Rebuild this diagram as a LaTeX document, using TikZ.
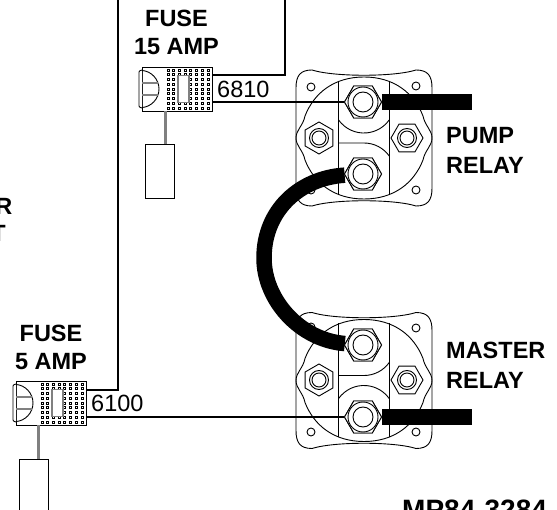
\documentclass[tikz,border=0pt]{standalone}
\usepackage{fontspec}
\setmainfont{Liberation Sans}
\usetikzlibrary{shapes.geometric}
\tikzstyle{wire} = [line width=1.3pt, black]
\tikzstyle{cable} = [line width=15.5pt, black]
\tikzstyle{thin} = [line width=0.9pt, black]
\tikzstyle{label} = [font=\fontsize{23.5}{28}\selectfont\bfseries, inner sep=0pt, align=left, anchor=west]
\tikzstyle{wirenum} = [font=\fontsize{23.5}{28}\selectfont, inner sep=0pt, anchor=base west]
\tikzstyle{fuse} = [rectangle, draw=black, line width=0.9pt, fill=white, minimum width=70pt, minimum height=44pt, inner sep=0pt]
\tikzstyle{tube} = [rectangle, draw=black, line width=0.9pt, fill=white, minimum width=29pt, inner sep=0pt]
\tikzstyle{nut} = [regular polygon, regular polygon sides=6, draw=black, line width=0.9pt, fill=white, minimum size=32pt, inner sep=0pt]
\tikzstyle{nutbig} = [regular polygon, regular polygon sides=6, draw=black, line width=0.9pt, fill=white, minimum size=37pt, inner sep=0pt]
\tikzstyle{washer} = [circle, draw=black, line width=0.9pt, fill=white, minimum size=14pt, inner sep=0pt]
\tikzstyle{hole} = [circle, draw=black, line width=0.9pt, fill=white, minimum size=8pt, inner sep=0pt]

% fuse body: name, then centre
\newcommand{\fuseholder}[2]{
    \node (#1) [fuse] at (#2) {};
    \begin{scope}[shift={(#1.center)}]
        \draw [thin, fill=white, rounded corners=1pt] (-35,-19) -- (-38,-18) -- (-38,18) -- (-35,19);
        \draw [thin] (-35,-18.5) .. controls (-26,-18) and (-18,-10) .. (-18,0) .. controls (-18,10) and (-26,18) .. (-35,18.5);
        \draw [gray, line width=1.5pt] (-35,-6) -- (-19,-6) (-35,6) -- (-19,6);
        \foreach \cx in {-9,-3.3,...,32} \foreach \cy in {-19,-14.25,...,20}
            \draw [line width=0.7pt] (\cx-1,\cy-1) rectangle (\cx+1,\cy+1);
        \draw [gray, line width=1.2pt, fill=white] (1,-13.5) rectangle (12,13.5);
    \end{scope}
}
% relay base: centre, then 1 or -1 (pump or master)
\newcommand{\relaybase}[2]{
    \begin{scope}[shift={(#1)}, yscale=#2]
        \draw [thin] (-68,-50) .. controls (-68,-62) and (-64,-68) .. (-52,-68)
            .. controls (-30,-61) and (30,-61) .. (52,-68)
            .. controls (64,-68) and (68,-62) .. (68,-50) -- (68,50)
            .. controls (68,62) and (64,68) .. (52,68)
            .. controls (30,61) and (-30,61) .. (-52,68)
            .. controls (-64,68) and (-68,62) .. (-68,50) -- cycle;
        \draw [thin] (0,-61) .. controls (30,-61) and (50,-45) .. (59,-22) .. controls (61,-12) and (68,-8) .. (68,0)
            .. controls (68,8) and (61,12) .. (59,22) .. controls (50,45) and (30,61) .. (0,61)
            .. controls (-30,61) and (-50,45) .. (-59,22) .. controls (-61,12) and (-68,8) .. (-68,0)
            .. controls (-68,-8) and (-61,-12) .. (-59,-22) .. controls (-50,-45) and (-30,-61) .. (0,-61);
        \draw [thin] (-25.5,-57) -- (-25.5,57) (25.5,-57) -- (25.5,57);
        \draw [thin] (-25.5,-18.2) arc (145:35:31);
        \draw [thin] (-25.5,5) -- (0,5) arc (-90:-35:31);
    \end{scope}
}

\begin{document}
\begin{tikzpicture}[x=1pt, y=-1pt]
    \useasboundingbox (0,0) rectangle (557,510);

    \relaybase{364,138}{1}
    \relaybase{364,380.5}{-1}

    \node (pumphole1) [hole] at (311,87) {};
    \node (pumphole2) [hole] at (416,86) {};
    \node (pumphole3) [hole] at (311,190) {};
    \node (pumphole4) [hole] at (416,190) {};
    \node (masterhole1) [hole] at (311,327) {};
    \node (masterhole2) [hole] at (416,328) {};
    \node (masterhole3) [hole] at (311,432) {};
    \node (masterhole4) [hole] at (416,432) {};

    \fuseholder{fuse15}{177,89}
    \fuseholder{fuse5}{51,403}

    % terminals
    \node (pumpt) [nutbig] at (363,102) {};
    \node (pumpb) [nutbig] at (363,174) {};
    \node (mastert) [nutbig] at (363,345) {};
    \node (masterb) [nutbig] at (363,417) {};

    % wires
    \coordinate (top15) at (285,0);
    \coordinate (top5) at (118,0);
    \draw [wire] (fuse15.east |- 0,75) -| (top15);
    \draw [wire] (fuse5.east |- 0,390) -| (top5);
    \draw [wire] (fuse15.east |- pumpt) -- (pumpt);
    \draw [wire] (fuse5.east |- masterb) -- (masterb);

    \coordinate (pumpend) at (472,102);
    \coordinate (masterend) at (472,417);
    \draw [cable] (pumpt) -- (pumpend);
    \draw [cable] (masterb) -- (masterend);
    \draw [cable] (pumpb) .. controls (300,178) and (264,210) .. (264,258) .. controls (264,300) and (300,340) .. (mastert);

    \node (pumptn) [nutbig] at (pumpt) {};
    \node (pumptw) [washer, minimum size=30pt] at (pumpt) {};
    \node (pumpti) [washer, minimum size=20pt] at (pumpt) {};
    \node (pumpbn) [nutbig] at (pumpb) {};
    \node (pumpbw) [washer, minimum size=30pt] at (pumpb) {};
    \node (pumpbi) [washer, minimum size=20pt] at (pumpb) {};
    \node (masterbn) [nutbig] at (masterb) {};
    \node (masterbw) [washer, minimum size=30pt] at (masterb) {};
    \node (masterbi) [washer, minimum size=20pt] at (masterb) {};
    \node (mastertn) [nutbig] at (mastert) {};
    \node (mastertw) [washer, minimum size=30pt] at (mastert) {};
    \node (masterti) [washer, minimum size=20pt] at (mastert) {};

    \node (pumpl) [nut, shape border rotate=30] at (319,138) {};
    \node (pumpr) [nut] at (407,138) {};
    \node (masterl) [nut, shape border rotate=30] at (319,380) {};
    \node (masterr) [nut] at (407,380) {};
    \node (pumplw) [washer, minimum size=19pt] at (pumpl) {};
    \node (pumplv) [washer] at (pumpl) {};
    \node (pumprw) [washer, minimum size=19pt] at (pumpr) {};
    \node (pumprv) [washer] at (pumpr) {};
    \node (masterlw) [washer, minimum size=19pt] at (masterl) {};
    \node (masterlv) [washer] at (masterl) {};
    \node (masterrw) [washer, minimum size=19pt] at (masterr) {};
    \node (masterrv) [washer] at (masterr) {};

    % leads and tubes
    \node (tube15) [tube, minimum height=54pt] at (159.5,171) {};
    \node (tube5) [tube, minimum height=60pt] at (33.5,489) {};
    \draw [gray, line width=3pt] (fuse15.south -| tube15.center) ++(5.5,0) -- (tube15.north -| 165,0);
    \draw [gray, line width=3pt] (fuse5.south -| tube5.center) ++(5,0) -- (tube5.north -| 38.5,0);

    \node (lblfuse15) [label, align=center, anchor=center] at (176.5,32.5) {FUSE\\15 AMP};
    \node (lblfuse5) [label, align=center, anchor=center] at (51,347) {FUSE\\5 AMP};
    \node (lblpump) [label] at (446,150) {PUMP\\[2pt]RELAY};
    \node (lblmaster) [label] at (446,365) {MASTER\\[2pt]RELAY};
    \node (num6810) [wirenum] at (217,98) {6810};
    \node (num6100) [wirenum] at (91,412) {6100};
    \node (lblr) [label, anchor=base east] at (12.5,215) {R};
    \node (lblt) [label, anchor=base east] at (6,242) {T};
    \node (lblmp) [label, anchor=base west, font=\fontsize{28}{28}\selectfont\bfseries] at (402,519) {MP84-3284};
\end{tikzpicture}
\end{document}
